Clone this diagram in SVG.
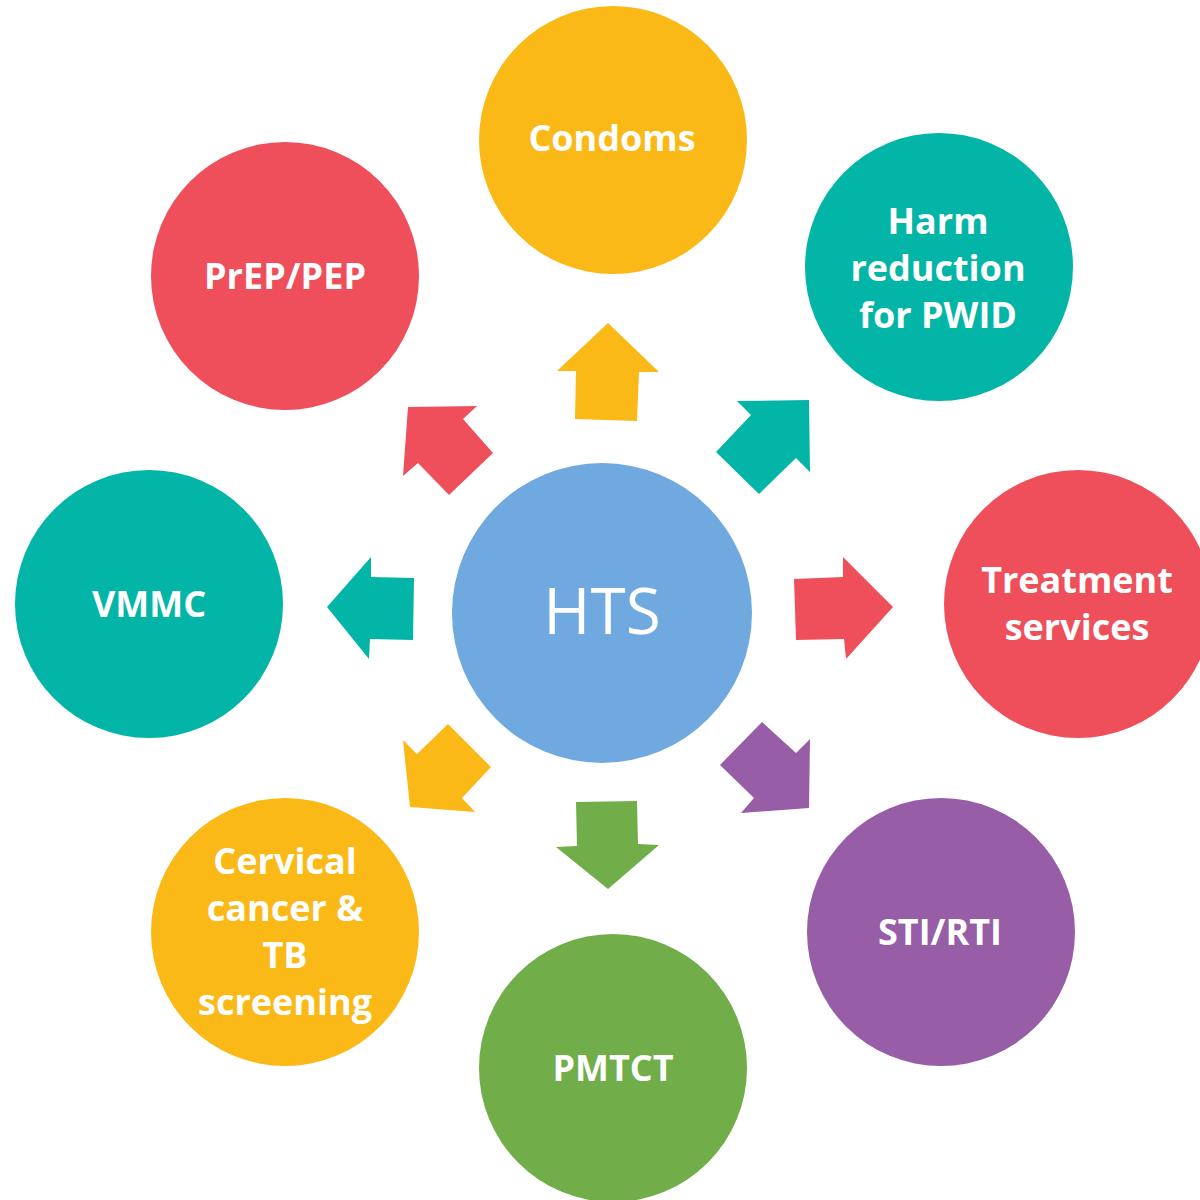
<svg xmlns="http://www.w3.org/2000/svg" width="1200" height="1200" viewBox="0 0 1200 1200">
  <style>
    .lbl { font-family: "Open Sans", "Liberation Sans", sans-serif; font-weight: 700; font-size: 36px; fill: #ffffff; text-anchor: middle; }
    .hub { font-family: "Open Sans", "Liberation Sans", sans-serif; font-weight: 400; font-size: 64px; fill: #ffffff; text-anchor: middle; }
    .orange { fill: #FBB917; }
    .teal { fill: #03B5A6; }
    .red { fill: #EF4F5B; }
    .purple { fill: #975DA6; }
    .green { fill: #71AD48; }
    .blue { fill: #6FA9DF; }
  </style>
  <rect width="1200" height="1200" fill="#ffffff"/>

  <!-- arrows radiating from the hub -->
  <g id="connectors">
    <polygon class="orange" points="608,323 659,372 639,372 637,421 575,419 576,371 557,371"/>
    <polygon class="teal" points="737,401 809,400 810,472 796,458 759,494 716,452 751,415"/>
    <polygon class="red" points="794,579 843,577 843,557 893,607 846,659 844,639 796,640"/>
    <polygon class="purple" points="762,722 796,753 810,739 809,808 741,813 754,798 720,765"/>
    <polygon class="green" points="576,802 637,801 638,844 659,845 608,889 556,847 577,846"/>
    <polygon class="orange" points="448,724 491,767 462,798 475,812 410,807 403,740 417,754"/>
    <polygon class="teal" points="327,607 371,557 371,577 414,578 413,640 370,639 369,659"/>
    <polygon class="red" points="408,407 477,406 463,419 493,453 449,495 418,463 403,476"/>
  </g>

  <g id="hts">
    <circle class="blue" cx="602" cy="613" r="150"/>
    <text class="hub" x="602" y="634">HTS</text>
  </g>

  <g id="condoms">
    <circle class="orange" cx="613" cy="140" r="134"/>
    <text class="lbl" x="612" y="151">Condoms</text>
  </g>

  <g id="harm-reduction">
    <circle class="teal" cx="939" cy="267" r="134"/>
    <text class="lbl" x="938" y="234">Harm</text>
    <text class="lbl" x="938" y="281">reduction</text>
    <text class="lbl" x="938" y="328">for PWID</text>
  </g>

  <g id="treatment">
    <circle class="red" cx="1078" cy="604" r="134"/>
    <text class="lbl" x="1077" y="593">Treatment</text>
    <text class="lbl" x="1077" y="640">services</text>
  </g>

  <g id="sti-rti">
    <circle class="purple" cx="941" cy="932" r="134"/>
    <text class="lbl" x="940" y="945">STI/RTI</text>
  </g>

  <g id="pmtct">
    <circle class="green" cx="613" cy="1068" r="134"/>
    <text class="lbl" x="613" y="1081">PMTCT</text>
  </g>

  <g id="screening">
    <circle class="orange" cx="285" cy="932" r="134"/>
    <text class="lbl" x="285" y="874">Cervical</text>
    <text class="lbl" x="285" y="921">cancer &amp;</text>
    <text class="lbl" x="285" y="968">TB</text>
    <text class="lbl" x="285" y="1015">screening</text>
  </g>

  <g id="vmmc">
    <circle class="teal" cx="149" cy="604" r="134"/>
    <text class="lbl" x="149" y="617">VMMC</text>
  </g>

  <g id="prep-pep">
    <circle class="red" cx="285" cy="276" r="134"/>
    <text class="lbl" x="285" y="289">PrEP/PEP</text>
  </g>
</svg>
